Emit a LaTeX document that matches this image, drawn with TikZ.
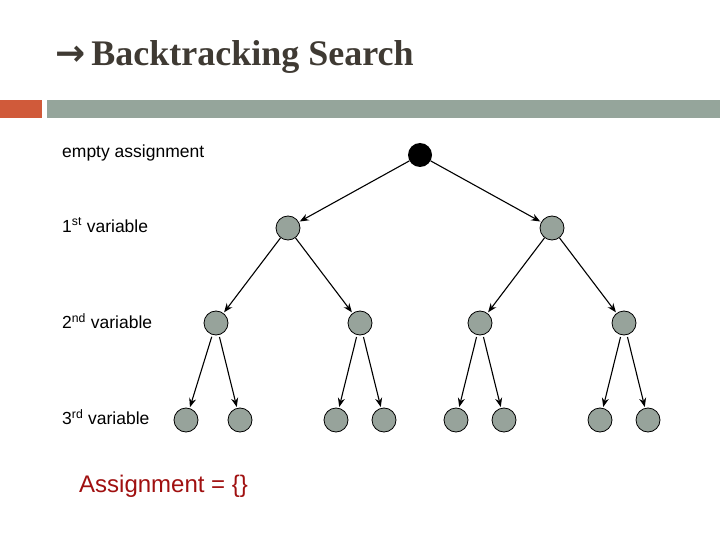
\documentclass[tikz,border=0pt]{standalone}
\usepackage{fontspec}
\setmainfont{Liberation Sans}
\newfontfamily\titlefont{Liberation Serif}
\newfontfamily\djv{DejaVu Sans}
\usetikzlibrary{arrows.meta}
\definecolor{nodegray}{HTML}{97A39B}
\definecolor{bargray}{HTML}{95A59B}
\definecolor{barorange}{HTML}{D05A3A}
\definecolor{titlecol}{HTML}{3F3A33}
\definecolor{asgred}{HTML}{A01010}
\begin{document}
\begin{tikzpicture}[x=1pt,y=-1pt,
  tn/.style={circle,draw=black,fill=nodegray,minimum size=24pt,inner sep=0pt,line width=0.8pt},
  rootn/.style={circle,fill=black,minimum size=24pt,inner sep=0pt},
  edge/.style={-{Stealth[length=9pt,width=7pt]},line width=1.1pt,shorten >=1pt},
  lab/.style={anchor=west,font=\fontsize{17.5}{20}\selectfont,inner sep=0pt}]
\useasboundingbox[fill=white] (0,0) rectangle (720,540);
\node[anchor=west,text=titlecol,inner sep=0pt] (title) at (55,57) {\fontsize{36}{40}\selectfont{\djv\bfseries →}\,\titlefont\bfseries Backtracking Search};
\fill[barorange] (0,100) rectangle (42,118);
\fill[bargray] (47,100) rectangle (720,118);
\node[rootn] (r) at (420,155) {};
\node[tn] (a) at (288,228) {};
\node[tn] (b) at (552,228) {};
\node[tn] (a1) at (216,323) {};
\node[tn] (a2) at (360,323) {};
\node[tn] (b1) at (480,323) {};
\node[tn] (b2) at (624,323) {};
\foreach \n/\x in {a11/186,a12/240,a21/336,a22/384,b11/456,b12/504,b21/600,b22/648}
  \node[tn] (\n) at (\x,420) {};
\draw[edge] (r) -- (a); \draw[edge] (r) -- (b);
\draw[edge] (a) -- (a1); \draw[edge] (a) -- (a2);
\draw[edge] (b) -- (b1); \draw[edge] (b) -- (b2);
\foreach \p/\c in {a1/a11,a1/a12,a2/a21,a2/a22,b1/b11,b1/b12,b2/b21,b2/b22}
  \draw[edge,shorten <=2pt] (\p) -- (\c);
\node[lab] (l0) at (62,153) {empty assignment};
\node[lab] (l1) at (62,225) {1\textsuperscript{st} variable};
\node[lab] (l2) at (62,321) {2\textsuperscript{nd} variable};
\node[lab] (l3) at (62,417) {3\textsuperscript{rd} variable};
\node[lab,text=asgred,font=\fontsize{24}{28}\selectfont] (asg) at (79,486) {Assignment = \{\}};
\end{tikzpicture}
\end{document}
